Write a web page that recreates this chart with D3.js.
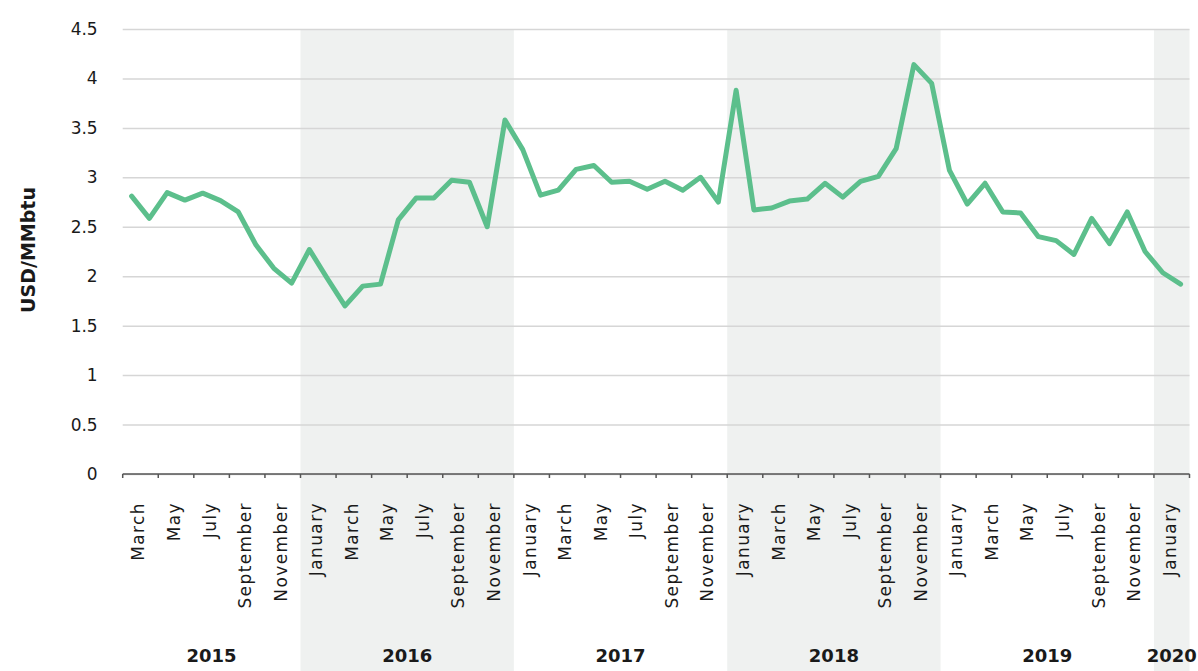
<!DOCTYPE html>
<html lang="en">
<head>
    <meta charset="utf-8">
    <script src="https://cdn.jsdelivr.net/npm/d3@7"></script>
    <style>
        body { margin: 0; background: #fff; }
        text { font-family: "DejaVu Sans", sans-serif; fill: #1a1a1a; }
    </style>
</head>
<body>
<div id="chart"></div>
<script>
    // data
    var years = ["2015", "2016", "2017", "2018", "2019", "2020"]
    var monthsPerYear = [10, 12, 12, 12, 12, 2]
    var shadedYears = ["2016", "2018", "2020"]
    var tickLabels = [
        "March", "May", "July", "September", "November",
        "January", "March", "May", "July", "September", "November",
        "January", "March", "May", "July", "September", "November",
        "January", "March", "May", "July", "September", "November",
        "January", "March", "May", "July", "September", "November",
        "January"
    ]
    var prices = [
        2.81, 2.585, 2.845, 2.77, 2.84, 2.765, 2.65, 2.315, 2.08, 1.93,
        2.27, 1.98, 1.70, 1.90, 1.92, 2.57, 2.79, 2.79, 2.97, 2.95, 2.50, 3.58,
        3.28, 2.82, 2.87, 3.08, 3.12, 2.95, 2.96, 2.88, 2.96, 2.87, 3.00, 2.75,
        3.88, 2.67, 2.69, 2.76, 2.78, 2.94, 2.80, 2.96, 3.01, 3.29, 4.14, 3.95,
        3.07, 2.73, 2.94, 2.65, 2.64, 2.40, 2.36, 2.22, 2.585, 2.33, 2.65, 2.25,
        2.035, 1.92
    ]
    var yTicks = [0, 0.5, 1, 1.5, 2, 2.5, 3, 3.5, 4, 4.5]

    var width = 1198,
        height = 671,
        plotLeft = 122.7,
        plotRight = 1189.5,
        plotTop = 29,
        plotBottom = 474

    var svg = d3.select("#chart")
        .append("svg")
            .attr("width", width)
            .attr("height", height)

    var idx = d3.range(prices.length)
    var x = d3.scaleBand().domain(idx).range([plotLeft, plotRight]).padding(0)
    var y = d3.scaleLinear().domain([0, 4.5]).range([plotBottom, plotTop])

    // year spans in month index
    var spans = []
    var start = 0
    years.forEach(function(yr, i) {
        spans.push({year: yr, from: start, to: start + monthsPerYear[i]})
        start += monthsPerYear[i]
    })
    function spanX0(s) { return x(s.from) }
    function spanX1(s) { return s.to >= prices.length ? plotRight : x(s.to) }

    // shading
    svg.selectAll("rect.band")
        .data(spans.filter(function(s) { return shadedYears.indexOf(s.year) >= 0 }))
        .enter()
        .append("rect")
            .attr("x", spanX0)
            .attr("y", plotTop)
            .attr("width", function(s) { return spanX1(s) - spanX0(s) })
            .attr("height", height - plotTop)
            .attr("fill", "#eff1f0")

    // gridlines + y labels
    var yAxis = d3.axisLeft(y)
        .tickValues(yTicks)
        .tickSize(-(plotRight - plotLeft))
        .tickPadding(25)
        .tickFormat(function(d) { return d })
    var gy = svg.append("g")
        .attr("transform", "translate(" + plotLeft + ",0)")
        .call(yAxis)
    gy.select(".domain").remove()
    gy.selectAll(".tick line").attr("stroke", "#d6d6d6").attr("stroke-width", 1.5)
    gy.selectAll(".tick text")
        .style("font-family", "DejaVu Sans")
        .style("font-size", "17px")
        .attr("fill", "#1a1a1a")

    // x axis line and ticks every two months
    var tickPos = d3.range(0, prices.length, 2).map(function(i) { return x(i) }).concat([plotRight])
    svg.append("line")
        .attr("x1", plotLeft).attr("x2", plotRight)
        .attr("y1", plotBottom).attr("y2", plotBottom)
        .attr("stroke", "#555").attr("stroke-width", 1.5)
    svg.selectAll("line.xt")
        .data(tickPos)
        .enter()
        .append("line")
            .attr("x1", function(d) { return d }).attr("x2", function(d) { return d })
            .attr("y1", plotBottom).attr("y2", plotBottom + 4)
            .attr("stroke", "#555").attr("stroke-width", 1.5)

    // month labels, one per pair of months
    svg.selectAll("text.month")
        .data(tickLabels)
        .enter()
        .append("text")
            .attr("transform", function(d, i) {
                var cx = x(i * 2) + x.bandwidth()
                return "translate(" + (cx - 2) + "," + (plotBottom + 28) + ") rotate(-90)"
            })
            .attr("text-anchor", "end")
            .attr("dy", "0.35em")
            .style("font-size", "17px")
            .style("letter-spacing", "1.4px")
            .text(function(d) { return d })

    // year labels
    svg.selectAll("text.year")
        .data(spans)
        .enter()
        .append("text")
            .attr("x", function(s) { return (spanX0(s) + spanX1(s)) / 2 })
            .attr("y", 662)
            .attr("text-anchor", "middle")
            .style("font-size", "18px")
            .style("font-weight", "bold")
            .text(function(s) { return s.year })

    // y title
    svg.append("text")
        .attr("transform", "translate(35,250) rotate(-90)")
        .attr("text-anchor", "middle")
        .style("font-size", "19px")
        .style("font-weight", "bold")
        .text("USD/MMbtu")

    // price line
    var line = d3.line()
        .x(function(d, i) { return x(i) + x.bandwidth() / 2 })
        .y(function(d) { return y(d) })
    svg.append("path")
        .datum(prices)
        .attr("d", line)
        .attr("fill", "none")
        .attr("stroke", "#5cbf8c")
        .attr("stroke-width", 5)
        .attr("stroke-linejoin", "round")
        .attr("stroke-linecap", "round")
</script>
</body>
</html>
